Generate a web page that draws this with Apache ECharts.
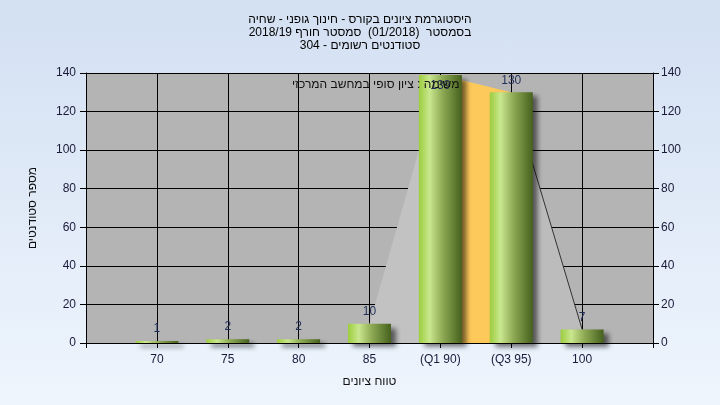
<!DOCTYPE html>
<html>
<head>
<meta charset="utf-8">
<script src="https://cdn.jsdelivr.net/npm/echarts@6/dist/echarts.min.js"></script>
<style>
html,body{margin:0;padding:0;}
#c{width:720px;height:405px;background:linear-gradient(to bottom,#d3e0f2,#eef5fd);}
</style>
</head>
<body>
<div id="c"></div>
<script>
const titleLines = ['היסטוגרמת ציונים בקורס - חינוך גופני - שחיה', '\u200Eבסמסטר  (01/2018)  סמסטר חורף 2018/19', '\u200Eסטודנטים רשומים - 304'];
const noteText = 'משימה : ציון סופי במחשב המרכזי';
const categories = ['70', '75', '80', '85', '(Q1 90)', '(Q3 95)', '100'];
const counts = [1, 2, 2, 10, 139, 130, 7];
const q1Index = 4, q3Index = 5;
const yMin = 0, yMax = 140, yStep = 20;
const xName = 'טווח ציונים';
const yName = 'מספר סטודנטים';

const FONT = "'Liberation Sans', Arial, sans-serif";
const axisCats = [''].concat(categories, ['']);
const padded = [null].concat(counts, [null]);
function pick(from, to) { return padded.map((v, i) => (i >= from + 1 && i <= to + 1) ? v : null); }

const barGrad = new echarts.graphic.LinearGradient(0, 0, 1, 0, [
  {offset: 0, color: '#9ccd3e'},
  {offset: 0.25, color: '#c9e78e'},
  {offset: 0.55, color: '#8eaa54'},
  {offset: 1, color: '#45611d'}
]);

const barData = padded.map(v => {
  if (v === null) return null;
  const o = {value: v};
  if (v >= yMax - 4) o.label = {position: 'insideTop', distance: 5};
  return o;
});

const chart = echarts.init(document.getElementById('c'), null, {renderer: 'canvas'});
chart.setOption({
  backgroundColor: 'transparent',
  animation: false,
  title: {
    text: titleLines.join('\n'), left: 'center', top: 8,
    textStyle: {fontFamily: FONT, fontSize: 12, fontWeight: 'normal', color: '#000', lineHeight: 13}
  },
  graphic: [{
    type: 'text', left: 292, top: 79, z: 100,
    style: {text: noteText, font: '12px ' + FONT, fill: '#111'}
  }],
  grid: {left: 86, right: 67, top: 73, bottom: 62, show: true, backgroundColor: '#b4b4b4', borderWidth: 0},
  xAxis: {
    type: 'category', data: axisCats, boundaryGap: false,
    name: xName, nameLocation: 'middle', nameGap: 33,
    nameTextStyle: {fontFamily: FONT, fontSize: 12, color: '#111'},
    axisLine: {lineStyle: {color: '#000', width: 1}},
    axisTick: {show: true, length: 5, lineStyle: {color: '#000'}},
    axisLabel: {fontFamily: FONT, fontSize: 12, color: '#1a1a3a', margin: 11, interval: 0},
    splitLine: {show: true, lineStyle: {color: '#000', width: 1}}
  },
  yAxis: [{
    type: 'value', min: yMin, max: yMax, interval: yStep, position: 'left',
    name: yName, nameLocation: 'middle', nameGap: 47, nameRotate: 90,
    nameTextStyle: {fontFamily: FONT, fontSize: 12, color: '#111'},
    axisLine: {show: true, lineStyle: {color: '#000'}},
    axisTick: {show: true, length: 6, lineStyle: {color: '#000'}},
    axisLabel: {fontFamily: FONT, fontSize: 12, color: '#1a1a3a', margin: 10},
    splitLine: {show: true, lineStyle: {color: '#000', width: 1}}
  }, {
    type: 'value', min: yMin, max: yMax, interval: yStep, position: 'right',
    axisLine: {show: true, lineStyle: {color: '#000'}},
    axisTick: {show: true, length: 6, lineStyle: {color: '#000'}},
    axisLabel: {fontFamily: FONT, fontSize: 12, color: '#1a1a3a', margin: 8},
    splitLine: {show: false}
  }],
  series: [
    {
      type: 'line', data: pick(q1Index - 1, q1Index), symbol: 'none', z: 1,
      lineStyle: {width: 0}, areaStyle: {color: '#c2c2c2', opacity: 1}
    },
    {
      type: 'line', data: pick(q1Index, q3Index), symbol: 'none', z: 1,
      lineStyle: {width: 0}, areaStyle: {color: '#fdc95a', opacity: 1}
    },
    {
      type: 'line', data: pick(q3Index, counts.length - 1), symbol: 'none', z: 1,
      lineStyle: {width: 1, color: '#333'}, areaStyle: {color: '#bcbcbc', opacity: 1}
    },
    {
      type: 'bar', data: barData, barWidth: 43, z: 3,
      itemStyle: {color: barGrad, shadowColor: 'rgba(0,0,0,0.55)', shadowBlur: 5, shadowOffsetX: 5, shadowOffsetY: 4},
      label: {show: true, position: 'top', distance: 6, fontFamily: FONT, fontSize: 12, color: '#1f2f5a'}
    }
  ]
});
</script>
</body>
</html>
